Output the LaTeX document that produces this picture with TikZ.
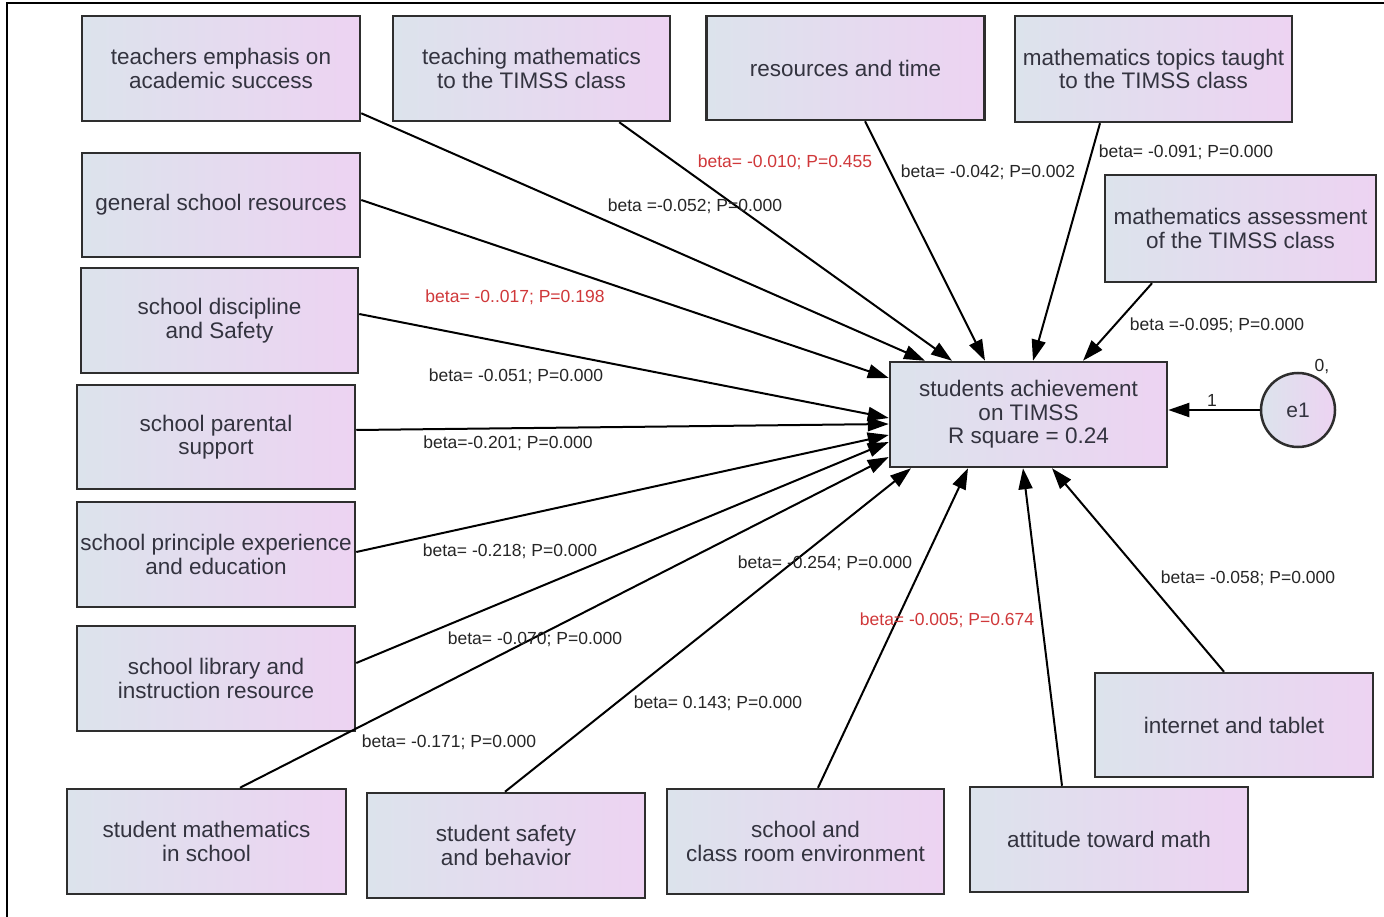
\documentclass[tikz,border=0pt]{standalone}
\usepackage{fontspec}
\setmainfont{Liberation Sans}
\usetikzlibrary{arrows.meta,calc}
\definecolor{boxL}{HTML}{DCE3EC}
\definecolor{boxR}{HTML}{EDD3F2}
\definecolor{edge}{HTML}{2E2E2E}
\definecolor{txt}{HTML}{33333F}
\definecolor{redlab}{HTML}{D0383A}
\begin{document}
\begin{tikzpicture}[x=1pt,y=-1pt,
  box/.style={draw=edge, line width=2.5pt, left color=boxL, right color=boxR,
    minimum width=278pt, minimum height=105pt, inner sep=0pt, align=center,
    text=txt, font=\fontsize{22.5}{23.5}\selectfont},
  lab/.style={font=\fontsize{17.5}{19}\selectfont, text=black!85, inner sep=0pt},
  rlab/.style={lab, text=redlab},
  arr/.style={line width=2pt, draw=black, -{Triangle[length=21pt,width=14pt]}}]
\useasboundingbox (0,0) rectangle (1384,917);
\fill[white] (0,0) rectangle (1384,917);
\draw[line width=2.5pt] (7,917) -- (7,3) -- (1384,3);

% boxes
\node[box] (b1) at (221,68.5) {teachers emphasis on\\academic success};
\node[box, minimum width=277pt] (b2) at (531.5,68.5) {teaching mathematics\\to the TIMSS class};
\node[box, minimum height=104pt] (b3) at (845.5,68) {resources and time};
\node[box, minimum width=277pt, minimum height=106pt] (b4) at (1153.5,69) {mathematics topics taught\\to the TIMSS class};
\node[box, minimum width=271pt, minimum height=107pt] (b5) at (1240.5,228.5) {mathematics assessment\\of the TIMSS class};
\node[box, minimum height=104pt] (b6) at (221,205) {general school resources};
\node[box, minimum width=277pt] (b7) at (219.5,320.5) {school discipline\\and Safety};
\node[box, minimum height=104pt] (b8) at (216,437) {school parental\\support};
\node[box] (b9) at (216,554.5) {school principle experience\\and education};
\node[box] (b10) at (216,678.5) {school library and\\instruction resource};
\node[box, minimum width=279pt] (b11) at (206.5,841.5) {student mathematics\\in school};
\node[box] (b12) at (506,845.5) {student safety\\and behavior};
\node[box, minimum width=277pt] (b13) at (805.5,841.5) {school and\\class room environment};
\node[box] (b14) at (1109,839.5) {attitude toward math};
\node[box, minimum height=104pt] (b15) at (1234,725) {internet and tablet};
\node[box, minimum width=277pt] (c) at (1028.5,414.5) {students achievement\\on TIMSS\\R square = 0.24};
\node[draw=edge, line width=2.5pt, circle, minimum size=74pt, inner sep=0pt,
  left color=boxL, right color=boxR, text=txt, font=\fontsize{21}{23}\selectfont] (e1) at (1298,410) {e1};

% connectors
\draw[arr] ([yshift=9pt]b1.south east) -- ([xshift=-103.5pt]c.north);
\draw[arr] ([xshift=-52pt]b2.south east) -- ([xshift=-76.5pt]c.north);
\draw[arr] ([xshift=19.5pt]b3.south) -- ([xshift=-43.5pt]c.north);
\draw[arr] ([xshift=-53.5pt]b4.south) -- ([xshift=4.5pt]c.north);
\draw[arr] ([xshift=-88.5pt]b5.south) -- ([xshift=54.5pt]c.north);
\draw[arr] ([yshift=5pt]b6.east) -- ([yshift=36.5pt]c.west);
\draw[arr] ([yshift=6.5pt]b7.east) -- ([yshift=-3.5pt]c.west);
\draw[arr] ([yshift=7pt]b8.east) -- ([yshift=-9.5pt]c.west);
\draw[arr] ([yshift=2.5pt]b9.east) -- ([yshift=-20.5pt]c.west);
\draw[arr] ([yshift=15.5pt]b10.east) -- ([yshift=-27.5pt]c.west);
\draw[arr] ([xshift=33.5pt]b11.north) -- ([yshift=-42.5pt]c.west);
\draw[arr] ([xshift=-1pt]b12.north) -- ([xshift=-117.5pt]c.south);
\draw[arr] ([xshift=12.5pt]b13.north) -- ([xshift=-60.5pt]c.south);
\draw[arr] ([xshift=-47pt]b14.north) -- ([xshift=-5.5pt]c.south);
\draw[arr] ([xshift=-10pt]b15.north) -- ([xshift=23.5pt]c.south);
\draw[arr] (e1.west) -- (c.east |- e1.west);

% labels
\node[lab] (l1) at (695,206) {beta =-0.052; P=0.000};
\node[rlab] (l2) at (785,162) {beta= -0.010; P=0.455};
\node[lab] (l3) at (988,172) {beta= -0.042; P=0.002};
\node[lab] (l4) at (1186,152) {beta= -0.091; P=0.000};
\node[lab] (l5) at (1217,325) {beta =-0.095; P=0.000};
\node[rlab] (l6) at (515,297) {beta= -0..017; P=0.198};
\node[lab] (l7) at (516,376) {beta= -0.051; P=0.000};
\node[lab] (l8) at (508,443) {beta=-0.201; P=0.000};
\node[lab] (l9) at (510,551) {beta= -0.218; P=0.000};
\node[lab] (l10) at (825,563) {beta= -0.254; P=0.000};
\node[rlab] (l11) at (947,620) {beta= -0.005; P=0.674};
\node[lab] (l12) at (535,639) {beta= -0.070; P=0.000};
\node[lab] (l13) at (718,703) {beta= 0.143; P=0.000};
\node[lab] (l14) at (449,742) {beta= -0.171; P=0.000};
\node[lab] (l15) at (1248,578) {beta= -0.058; P=0.000};
\node[lab] (one) at (1212,400) {1};
\node[lab] (var) at (1322,367) {0,};
\end{tikzpicture}
\end{document}
